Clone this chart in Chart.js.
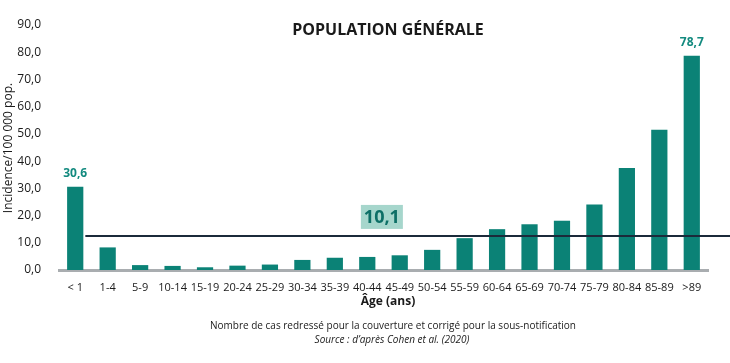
<!DOCTYPE html>
<html>
<head>
<meta charset="utf-8">
<script src="https://cdn.jsdelivr.net/npm/chart.js@4"></script>
<style>
  html, body { margin: 0; padding: 0; background: #fff; }
  #wrap { width: 730px; height: 363px; position: relative; }
</style>
</head>
<body>
<div id="wrap"><canvas id="chart"></canvas></div>
<script>
const ageGroups = ["< 1", "1-4", "5-9", "10-14", "15-19", "20-24", "25-29", "30-34", "35-39", "40-44",
  "45-49", "50-54", "55-59", "60-64", "65-69", "70-74", "75-79", "80-84", "85-89", ">89"];
const incidence = [30.6, 8.3, 1.8, 1.5, 1.0, 1.6, 2.0, 3.7, 4.5, 4.8,
  5.4, 7.4, 11.7, 15.0, 16.8, 18.1, 24.1, 37.5, 51.5, 78.7];
const labelledBars = [0, 19]; // only first and last bars get a value label
const meanLabel = "10,1";
const meanLineLevel = 12.5; // where the line sits in the picture
const yTicks = [0, 10, 20, 30, 40, 50, 60, 70, 80, 90];

const teal = "#0b8276";
const fmt = (v) => v.toFixed(1).replace(".", ",");
const FONT = "'Open Sans', sans-serif";

const extras = {
  id: "extras",
  afterDatasetsDraw(chart) {
    const { ctx, scales: { x, y }, width } = chart;
    const meta = chart.getDatasetMeta(0);
    ctx.save();

    // mean line on top of the bars
    const first = meta.data[0];
    const ly = y.getPixelForValue(meanLineLevel);
    ctx.strokeStyle = "#1b2a3a";
    ctx.lineWidth = 2;
    ctx.beginPath();
    ctx.moveTo(first.x + first.width / 2 + 2, ly);
    ctx.lineTo(width, ly);
    ctx.stroke();

    // mean label box
    const bx = x.getPixelForValue(9.45);
    const by = y.getPixelForValue(19.5);
    ctx.fillStyle = "#a6d6cc";
    ctx.fillRect(bx - 21, by - 12, 42, 24);
    ctx.fillStyle = "#0d6f66";
    ctx.font = "bold 18px " + FONT;
    ctx.textAlign = "center";
    ctx.textBaseline = "middle";
    ctx.fillText(meanLabel, bx, by + 1);

    // value labels
    ctx.fillStyle = "#138a7f";
    ctx.font = "bold 12px " + FONT;
    ctx.textBaseline = "alphabetic";
    labelledBars.forEach((i) => {
      const bar = meta.data[i];
      ctx.fillText(fmt(incidence[i]), bar.x, bar.y - 10);
    });

    // titles and notes
    ctx.fillStyle = "#1a1a1a";
    ctx.textBaseline = "middle";
    ctx.font = "bold 16px " + FONT;
    ctx.fillText("POPULATION GÉNÉRALE", 388, 30);
    ctx.font = "bold 12px " + FONT;
    ctx.fillText("Âge (ans)", 388, 302);
    ctx.font = "10px " + FONT;
    ctx.fillText("Nombre de cas redressé pour la couverture et corrigé pour la sous-notification", 393, 326);
    ctx.font = "italic 10px " + FONT;
    ctx.fillText("Source : d’après Cohen et al. (2020)", 392, 340);

    ctx.translate(9, 148);
    ctx.rotate(-Math.PI / 2);
    ctx.font = "12px " + FONT;
    ctx.fillText("Incidence/100 000 pop.", 0, 0);
    ctx.restore();
  }
};

new Chart(document.getElementById("chart"), {
  type: "bar",
  data: {
    labels: ageGroups,
    datasets: [{
      data: incidence,
      backgroundColor: teal,
      barPercentage: 0.5,
      categoryPercentage: 1.0
    }]
  },
  options: {
    responsive: true,
    maintainAspectRatio: false,
    animation: false,
    layout: { padding: { top: 25, right: 22, left: 0, bottom: 0 } },
    plugins: { legend: { display: false }, tooltip: { enabled: false } },
    scales: {
      x: {
        grid: { display: false },
        border: { display: true, color: "#a9adb0", width: 3 },
        ticks: { color: "#1a1a1a", font: { family: FONT, size: 11 }, maxRotation: 0, autoSkip: false, padding: 3 },
        afterFit: (s) => { s.height = 93; }
      },
      y: {
        min: 0,
        max: 90,
        grid: { display: false },
        border: { display: false },
        afterBuildTicks: (s) => { s.ticks = yTicks.map((v) => ({ value: v })); },
        ticks: { color: "#1a1a1a", font: { family: FONT, size: 12 }, padding: 10, callback: (v) => fmt(v) },
        afterFit: (s) => { s.width = 59; }
      }
    }
  },
  plugins: [extras]
});
</script>
</body>
</html>
